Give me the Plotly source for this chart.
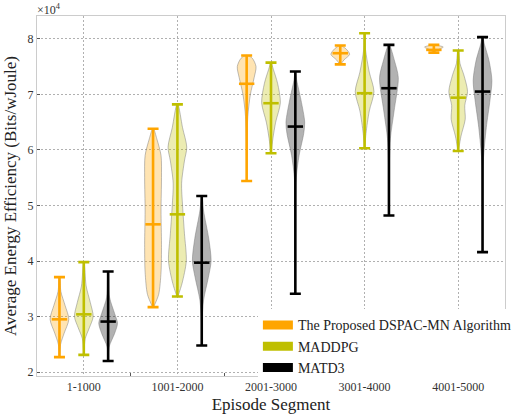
import plotly.graph_objects as go

# ---------------- data (values in units of 1e4 Bits/wJoule) ----------------
segments = ["1-1000", "1001-2000", "2001-3000", "3001-4000", "4001-5000"]
algorithms = ["The Proposed DSPAC-MN Algorithm", "MADDPG", "MATD3"]

dspac_min = [2.27, 3.17, 5.44, 7.54, 7.75]
dspac_max = [3.71, 6.38, 7.70, 7.88, 7.89]
dspac_mean = [2.95, 4.66, 7.19, 7.74, 7.80]

maddpg_min = [2.31, 3.36, 5.94, 6.03, 5.98]
maddpg_max = [3.98, 6.82, 7.57, 8.10, 7.79]
maddpg_mean = [3.04, 4.84, 6.84, 7.02, 6.94]

matd3_min = [2.20, 2.48, 3.41, 4.82, 4.16]
matd3_max = [3.81, 5.17, 7.41, 7.89, 8.03]
matd3_mean = [2.91, 3.97, 6.42, 7.11, 7.05]

# estimated density profiles (value level, relative density)
dspac_levels = [
    [2.27, 2.5, 2.7, 2.95, 3.2, 3.45, 3.71],
    [3.17, 3.4, 3.8, 4.3, 4.9, 5.5, 5.9, 6.2, 6.38],
    [5.44, 6.0, 6.6, 7.0, 7.3, 7.5, 7.65, 7.70],
    [7.54, 7.62, 7.72, 7.82, 7.88],
    [7.75, 7.80, 7.85, 7.89],
]
dspac_density = [
    [0.02, 0.12, 0.5, 1.0, 0.6, 0.15, 0.02],
    [0.05, 0.6, 0.85, 0.9, 0.85, 0.9, 0.85, 0.4, 0.05],
    [0.0, 0.03, 0.12, 0.4, 0.8, 1.0, 0.6, 0.1],
    [0.05, 0.4, 1.0, 0.6, 0.05],
    [0.05, 0.4, 1.0, 0.1],
]
maddpg_levels = [
    [2.31, 2.6, 2.8, 3.0, 3.25, 3.55, 3.98],
    [3.36, 3.6, 4.0, 4.5, 5.0, 5.4, 5.8, 6.05, 6.4, 6.82],
    [5.94, 6.2, 6.5, 6.85, 7.2, 7.45, 7.57],
    [6.03, 6.3, 6.7, 7.05, 7.4, 7.8, 8.10],
    [5.98, 6.25, 6.55, 6.8, 7.05, 7.35, 7.55, 7.79],
]
maddpg_density = [
    [0.02, 0.15, 0.6, 1.0, 0.7, 0.25, 0.02],
    [0.05, 0.5, 0.95, 0.75, 0.55, 0.45, 0.75, 1.0, 0.55, 0.05],
    [0.02, 0.2, 0.5, 1.0, 0.7, 0.25, 0.02],
    [0.02, 0.15, 0.5, 1.0, 0.5, 0.1, 0.02],
    [0.02, 0.3, 0.75, 0.7, 1.0, 0.6, 0.2, 0.02],
]
matd3_levels = [
    [2.20, 2.45, 2.7, 2.88, 3.05, 3.35, 3.81],
    [2.48, 2.9, 3.3, 3.7, 4.0, 4.4, 4.9, 5.17],
    [3.41, 4.5, 5.5, 5.9, 6.3, 6.5, 6.9, 7.25, 7.41],
    [4.82, 5.6, 6.2, 6.7, 7.3, 7.6, 7.89],
    [4.16, 5.0, 5.8, 6.4, 6.9, 7.25, 7.6, 7.9, 8.03],
]
matd3_density = [
    [0.02, 0.1, 0.7, 1.0, 0.7, 0.15, 0.02],
    [0.0, 0.03, 0.2, 0.7, 1.0, 0.75, 0.2, 0.02],
    [0.0, 0.02, 0.1, 0.4, 0.9, 1.0, 0.6, 0.15, 0.02],
    [0.0, 0.03, 0.15, 0.55, 1.0, 0.6, 0.05],
    [0.0, 0.02, 0.08, 0.4, 0.8, 1.0, 0.7, 0.2, 0.02],
]

line_colors = ["#FFA500", "#BFBF00", "#000000"]
fill_colors = ["rgba(255,165,0,0.3)", "rgba(191,191,0,0.3)", "rgba(0,0,0,0.3)"]
offsets = [-0.26, 0.0, 0.26]
half_width = 0.1

series = [
    (dspac_min, dspac_max, dspac_mean, dspac_levels, dspac_density),
    (maddpg_min, maddpg_max, maddpg_mean, maddpg_levels, maddpg_density),
    (matd3_min, matd3_max, matd3_mean, matd3_levels, matd3_density),
]

FONT = "Liberation Serif"
fig = go.Figure()

# violin bodies
for a, (mn, mx, mean, levels, dens) in enumerate(series):
    for g in range(len(segments)):
        c = g + offsets[a]
        lv, dn = levels[g], dens[g]
        xs = [c + d * half_width for d in dn] + [c - d * half_width for d in dn[::-1]]
        ys = list(lv) + list(lv[::-1])
        fig.add_trace(go.Scatter(
            x=xs, y=ys, mode="lines", fill="toself",
            fillcolor=fill_colors[a],
            line=dict(color="rgba(120,120,120,0.6)", width=0.8, shape="spline", smoothing=0.8),
            showlegend=False, hoverinfo="skip"))

# min/max bars + mean marks
for a, (mn, mx, mean, levels, dens) in enumerate(series):
    xs = [g + offsets[a] for g in range(len(segments))]
    fig.add_trace(go.Scatter(
        x=xs, y=mean, mode="markers",
        marker=dict(symbol="line-ew", size=11, line=dict(color=line_colors[a], width=2.6)),
        error_y=dict(type="data", symmetric=False,
                     array=[mx[i] - mean[i] for i in range(len(mean))],
                     arrayminus=[mean[i] - mn[i] for i in range(len(mean))],
                     color=line_colors[a], thickness=2.6, width=5.5),
        showlegend=False))

# legend entries
for a in range(3):
    fig.add_trace(go.Scatter(x=[None], y=[None], mode="lines",
                             line=dict(color=line_colors[a], width=9),
                             name=algorithms[a]))

fig.update_layout(
    width=527, height=420,
    margin=dict(l=30, r=10, t=16, b=37),
    paper_bgcolor="white", plot_bgcolor="white",
    font=dict(family=FONT, color="#222222", size=12),
    legend=dict(x=0.472, y=0.185, xanchor="left", yanchor="top",
                bgcolor="white", borderwidth=0, font=dict(size=14, family=FONT),
                tracegroupgap=0, itemwidth=30),
    showlegend=True,
)
fig.update_xaxes(
    range=[-0.5, 4.5], tickmode="array", tickvals=list(range(5)), ticktext=segments,
    ticks="", showgrid=True, gridcolor="#b0b0b0", griddash="2px,2px", gridwidth=0.8,
    showline=True, linecolor="#cccccc", linewidth=1, mirror=True, zeroline=False,
    tickfont=dict(size=12, family=FONT, color="#333333"),
    minor=dict(tickmode="array", tickvals=[0.5, 1.5, 2.5, 3.5], ticks="inside",
               ticklen=3, tickcolor="#555555", showgrid=False),
    title=dict(text="Episode Segment", font=dict(size=17, family=FONT, color="#222222"), standoff=4),
)
fig.update_yaxes(
    range=[1.93, 8.41], tickvals=[2, 3, 4, 5, 6, 7, 8],
    ticks="inside", ticklen=3, tickcolor="#555555",
    showgrid=True, gridcolor="#b0b0b0", griddash="2px,2px", gridwidth=0.8,
    showline=True, linecolor="#cccccc", linewidth=1, mirror=True, zeroline=False,
    tickfont=dict(size=12, family=FONT, color="#333333"),
    title=dict(text="Average Energy Efficiency (Bits/wJoule)",
               font=dict(size=17, family=FONT, color="#222222"), standoff=6),
)
fig.add_annotation(xref="paper", yref="paper", x=0, y=1, xanchor="left", yanchor="bottom",
                   text="×10<sup>4</sup>", showarrow=False,
                   font=dict(size=12, family=FONT, color="#333333"), xshift=-2, yshift=-3)

fig.write_html("out.html")
